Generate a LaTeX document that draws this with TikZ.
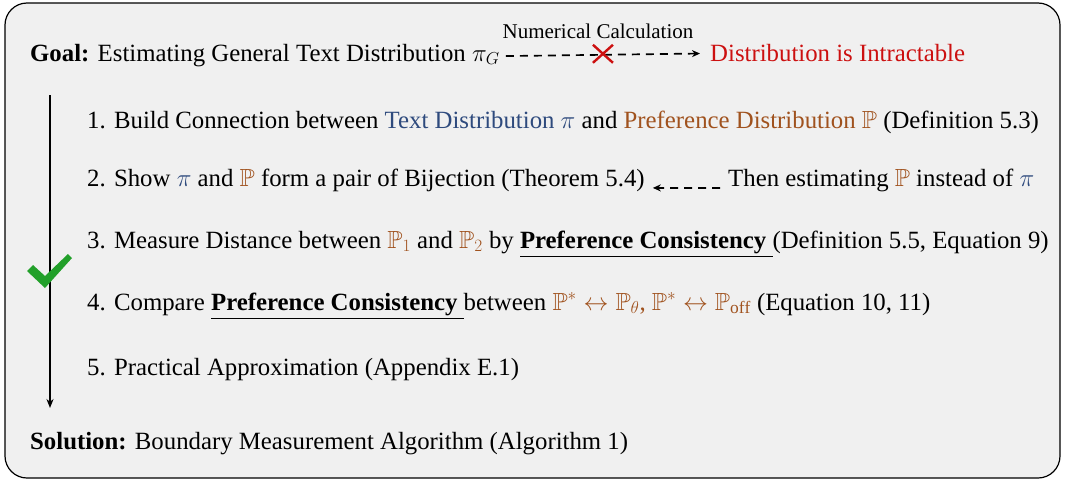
\documentclass[tikz,border=0pt]{standalone}
\usepackage{fontspec}
\usepackage{amssymb}
\setmainfont{Liberation Serif}
\usetikzlibrary{arrows.meta}
\definecolor{bgc}{HTML}{F0F0F0}
\definecolor{tblue}{HTML}{2E4A7D}
\definecolor{pbrown}{HTML}{A0521E}
\definecolor{xred}{HTML}{CC1010}
\definecolor{cgreen}{HTML}{22A02A}
\newcommand{\PP}{\textcolor{pbrown}{$\mathbb{P}$}}
\newcommand{\tpi}{\textcolor{tblue}{$\pi$}}
\begin{document}
\begin{tikzpicture}[x=1pt,y=-1pt,
  txt/.style={anchor=base west,inner sep=0pt,font=\fontsize{24.8}{28}\selectfont},
  dasharrow/.style={dashed,dash pattern=on 8pt off 6pt,line width=1.7pt,-{Stealth[length=8pt,width=7pt]}}]
\useasboundingbox (0,0) rectangle (1065,482);
\draw[line width=1.2pt,fill=bgc,rounded corners=22pt] (5,3) rectangle (1060,478);
% Goal line
\node[txt] (goal) at (30,61) {\textbf{Goal:} Estimating General Text Distribution $\pi_G$};
\node[txt,text=xred] (intr) at (710,61) {Distribution is Intractable};
\draw[dasharrow] ([xshift=6pt,yshift=-1pt]goal.east) -- ([xshift=-10pt,yshift=-1pt]intr.west) coordinate[pos=0.5] (mid);
\node[txt,anchor=base,font=\fontsize{21}{24}\selectfont] (num) at (598,38) {Numerical Calculation};
\node[inner sep=0pt] (cross) at ([yshift=1pt]mid) {};
\draw[xred,line width=2.4pt] ([shift={(-10,-9)}]cross.center) -- ([shift={(10,9)}]cross.center)
  ([shift={(-10,9)}]cross.center) -- ([shift={(10,-9)}]cross.center);
% steps
\node[txt] (s1) at (87,128) {1. Build Connection between \textcolor{tblue}{Text Distribution $\pi$} and \textcolor{pbrown}{Preference Distribution $\mathbb{P}$} (Definition 5.3)};
\node[txt] (s2) at (87,186) {2. Show \tpi{} and \PP{} form a pair of Bijection (Theorem 5.4)};
\node[txt] (s2b) at (728,186) {Then estimating \PP{} instead of \tpi};
\draw[dasharrow] ([xshift=-8pt,yshift=-8pt]s2b.west) -- ([xshift=8pt,yshift=-8pt]s2.east);
\node[txt] (s3) at (87,248) {3. Measure Distance between \textcolor{pbrown}{$\mathbb{P}_1$} and \textcolor{pbrown}{$\mathbb{P}_2$} by \underline{\textbf{Preference Consistency}\ }(Definition 5.5, Equation 9)};
\node[txt] (s4) at (87,310) {4. Compare \underline{\textbf{Preference Consistency}\ }between \textcolor{pbrown}{$\mathbb{P}^*\leftrightarrow\mathbb{P}_\theta$, $\mathbb{P}^*\leftrightarrow\mathbb{P}_{\mathrm{off}}$} (Equation 10, 11)};
\node[txt] (s5) at (87,375) {5. Practical Approximation (Appendix E.1)};
\node[txt] (sol) at (30,449) {\textbf{Solution:} Boundary Measurement Algorithm (Algorithm 1)};
% vertical arrow
\coordinate (vtop) at (50,95);
\coordinate (vbot) at (50,408);
\draw[line width=1.8pt,-{Stealth[length=9pt,width=7pt]}] (vtop) -- (vbot);
% check mark
\fill[cgreen] (27,271) -- (33,265) -- (45,276) -- (68,254) -- (72,258) -- (45,288) -- cycle;
\end{tikzpicture}
\end{document}
